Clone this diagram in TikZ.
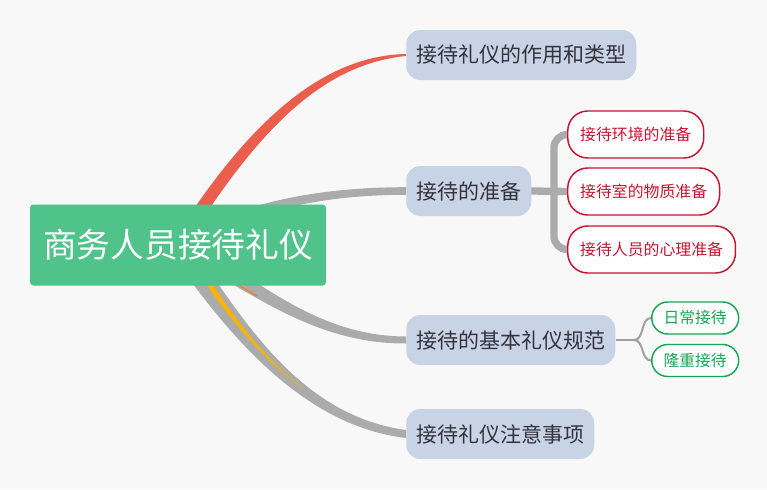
\documentclass[tikz,border=0pt]{standalone}
\usepackage{fontspec}
\setmainfont{Noto Sans CJK SC}
\usetikzlibrary{calc}
\definecolor{bgcol}{RGB}{248,248,248}
\definecolor{rootgreen}{RGB}{79,195,138}
\definecolor{topicblue}{RGB}{201,211,230}
\definecolor{topictext}{RGB}{51,51,61}
\definecolor{branchred}{RGB}{235,94,78}
\definecolor{branchgray}{RGB}{171,171,171}
\definecolor{linegray}{RGB}{160,160,160}
\definecolor{kidred}{RGB}{200,20,50}
\definecolor{kidgreen}{RGB}{22,168,82}
\definecolor{tipyellow}{RGB}{250,180,0}
\definecolor{tiporange}{RGB}{240,125,40}
\pgfdeclarelayer{paper}
\pgfdeclarelayer{links}
\pgfsetlayers{paper,links,main}
\def\taper[#1](#2)(#3)(#4)(#5)(#6:#7:#8){\fill[#1] ($(#2)-(#6)$) .. controls ($(#3)-(#6)$) and ($(#4)-(#7)$) .. ($(#5)-(#8)$) -- ($(#5)+(#8)$) .. controls ($(#4)+(#7)$) and ($(#3)+(#6)$) .. ($(#2)+(#6)$) -- cycle;}
\tikzset{
  rootbox/.style={fill=rootgreen, text=white, rounded corners=2.5pt, inner xsep=9.8pt, minimum height=60.75pt, font=\fontsize{25.3}{30}\selectfont},
  topic/.style={fill=topicblue, text=topictext, rounded corners=10.5pt, inner xsep=7.5pt, minimum height=37.5pt, anchor=west, font=\fontsize{15.75}{19}\selectfont},
  redkid/.style={draw=kidred, line width=1.1pt, fill=white, text=kidred, rounded corners=15pt, inner xsep=9.35pt, minimum height=35.25pt, anchor=west, font=\fontsize{11.9}{14}\selectfont},
  greenkid/.style={draw=kidgreen, line width=1.1pt, fill=white, text=kidgreen, rounded corners=12pt, inner xsep=9pt, minimum height=24pt, anchor=west, font=\fontsize{11.8}{14}\selectfont},
  bracket/.style={draw=branchgray, line width=5.5pt, line cap=round},
  twig/.style={draw=linegray, line width=1.5pt}
}
\begin{document}
\begin{tikzpicture}[x=0.75pt,y=-0.75pt]
	%%%%% paper %%%%%
	\begin{pgfonlayer}{paper}
		\fill[bgcol] (0,0) rectangle (767,489);
	\end{pgfonlayer}
	
	%%%%% nodes %%%%%
	\node[rootbox] (root) at (178,245) {商务人员接待礼仪};
	
	\node[topic] (use) at (406,55) {接待礼仪的作用和类型};
	\node[topic] (prep) at (406,191) {接待的准备};
	\node[topic] (norms) at (406,340) {接待的基本礼仪规范};
	\node[topic] (notes) at (406,434) {接待礼仪注意事项};
	
	\node[redkid] (env) at (567,134.5) {接待环境的准备};
	\node[redkid] (room) at (567,191.5) {接待室的物质准备};
	\node[redkid] (mind) at (567,249.5) {接待人员的心理准备};
	
	\node[greenkid] (daily) at (651,318) {日常接待};
	\node[greenkid] (grand) at (651,360.5) {隆重接待};
	
	\coordinate (jprep) at (554,191);
	\coordinate (jnorms) at (634,340);
	
	%%%%% links %%%%%
	\begin{pgfonlayer}{links}
		\taper[branchred](root.center)(250,130)(320,60)(use.west)(5.5,3.4:0,4.5:0,1)
		\taper[branchgray](root.center)(230,215)(300,191)(prep.west)(3,5.2:0,3.8:0,3.8)
		\taper[branchgray](root.center)(250,280)(310,340)(norms.west)(-3.5,7.2:0,4:0,3.5)
		\taper[branchgray](root.center)(228,315)(295,420)(notes.west)(-9.9,4.8:0,5:0,4)
		
		\taper[tipyellow](210,285)(225,308)(260,357)(303,388)(-2.1,1.4:0,1.3:0,0.2)
		\draw[tiporange, line width=0.9pt] (238,285) -- (257,296);
		
		\draw[bracket] (prep.east) -- (room.west);
		\draw[bracket, rounded corners=10pt] (env.west) -| (jprep) |- (mind.west);
		
		\draw[twig] (norms.east) -- (jnorms);
		\draw[twig] (jnorms) to[out=0, in=180] (daily.west);
		\draw[twig] (jnorms) to[out=0, in=180] (grand.west);
	\end{pgfonlayer}
\end{tikzpicture}
\end{document}
